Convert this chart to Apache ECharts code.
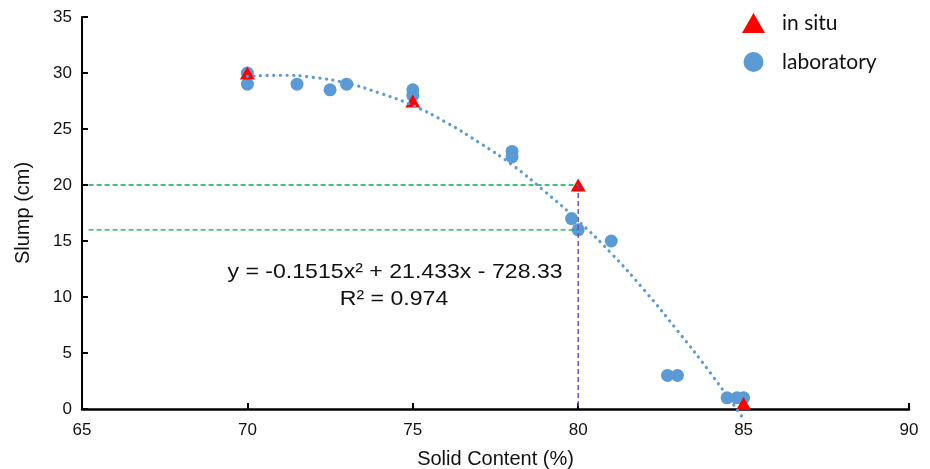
<!DOCTYPE html>
<html>
<head>
<meta charset="utf-8">
<script src="https://cdn.jsdelivr.net/npm/echarts@6/dist/echarts.min.js"></script>
<style>
  html, body { margin: 0; padding: 0; background: #fff; }
  #main { width: 930px; height: 469px; }
</style>
</head>
<body>
<div id="main"></div>
<script>
  // laboratory points [solid content %, slump cm]
  var labData = [
    [70, 30], [70, 29], [71.5, 29], [72.5, 28.5], [73, 29],
    [75, 28.5], [75, 28], [78, 23], [78, 22.5], [79.8, 17],
    [80, 16], [81, 15], [82.7, 3], [83, 3],
    [84.5, 1], [84.8, 1], [85, 1]
  ];
  // in situ points
  var situData = [[70, 30], [75, 27.5], [80, 20], [85, 0.5]];
  // polynomial trendline
  var trendX = [70, 71, 72, 73, 74, 75, 76, 77, 78, 79, 80, 81, 82, 83, 84, 85];
  var trendY = [29.7, 29.8, 29.6, 29.1, 28.2, 27.1, 25.6, 23.8, 21.8, 19.4, 16.8, 13.9, 10.6, 7.0, 3.2, -0.9];
  // guide lines
  var guide20 = [[65.2, 20], [80, 20]];
  var guide16 = [[65.2, 16], [80, 16]];
  var guideV = [[80, 20], [80, 0]];
  var xTicks = [65, 70, 75, 80, 85, 90];
  var yTicks = [0, 5, 10, 15, 20, 25, 30, 35];

  var trendData = trendX.map(function (x, i) { return [x, trendY[i]]; });

  var chart = echarts.init(document.getElementById('main'));
  var font = '"Liberation Sans", Arial, sans-serif';
  var option = {
    animation: false,
    grid: { left: 82, right: 21, top: 17, bottom: 60, outerBoundsMode: 'none', containLabel: false },
    legend: {
      orient: 'vertical',
      left: 737,
      top: 4,
      itemGap: 11,
      itemWidth: 23,
      itemHeight: 20,
      textStyle: { fontFamily: 'Lato, sans-serif', fontSize: 21, lineHeight: 20, color: '#111', padding: [8, 0, 0, 12] },
      data: [
        { name: 'in situ', icon: 'triangle' },
        { name: 'laboratory', icon: 'circle' }
      ]
    },
    xAxis: {
      type: 'value',
      min: xTicks[0], max: xTicks[xTicks.length - 1], interval: 5,
      name: 'Solid Content (%)',
      nameLocation: 'middle',
      nameGap: 40,
      nameTextStyle: { fontFamily: font, fontSize: 20, color: '#111' },
      axisLine: { onZero: false, lineStyle: { color: '#000', width: 2.5 } },
      axisTick: { inside: true, length: 6, lineStyle: { color: '#000', width: 2 } },
      axisLabel: { margin: 13, fontFamily: font, fontSize: 17, color: '#111' },
      splitLine: { show: false }
    },
    yAxis: {
      type: 'value',
      min: yTicks[0], max: yTicks[yTicks.length - 1], interval: 5,
      name: 'Slump (cm)',
      nameLocation: 'middle',
      nameGap: 49,
      nameTextStyle: { fontFamily: font, fontSize: 20, color: '#111' },
      axisLine: { show: true, onZero: false, lineStyle: { color: '#000', width: 2 } },
      axisTick: { show: true, inside: true, length: 6, lineStyle: { color: '#000', width: 2 } },
      axisLabel: { margin: 10, fontFamily: font, fontSize: 17, color: '#111' },
      splitLine: { show: false }
    },
    graphic: [
      {
        type: 'text', x: 395, y: 272, z: 100, scaleX: 1.1,
        style: { text: 'y = -0.1515x² + 21.433x - 728.33', font: '21px ' + font, fill: '#111', align: 'center', verticalAlign: 'middle' }
      },
      {
        type: 'text', x: 394, y: 299, z: 100, scaleX: 1.1,
        style: { text: 'R² = 0.974', font: '21px ' + font, fill: '#111', align: 'center', verticalAlign: 'middle' }
      }
    ],
    series: [
      {
        name: 'guide20', type: 'line', data: guide20, symbol: 'none',
        lineStyle: { color: '#00B050', width: 1.3, type: [5, 3] }, silent: true
      },
      {
        name: 'guide16', type: 'line', data: guide16, symbol: 'none',
        lineStyle: { color: '#00B050', width: 1.3, type: [5, 3] }, silent: true
      },
      {
        name: 'laboratory', type: 'scatter', data: labData,
        symbol: 'circle', symbolSize: 13,
        itemStyle: { color: '#5B9BD5', opacity: 1 }
      },
      {
        name: 'in situ', type: 'scatter', data: situData,
        symbol: 'triangle', symbolSize: [15, 13],
        itemStyle: { color: '#FF0000', opacity: 1 }
      },
      {
        name: 'guideV', type: 'line', data: guideV, symbol: 'none',
        lineStyle: { color: '#7B3FBF', width: 1.4, type: [5, 3] }, silent: true
      },
      {
        name: 'trend', type: 'line', data: trendData, symbol: 'none',
        smooth: true, clip: false,
        lineStyle: { color: '#5B9BD5', width: 3.2, type: [0.1, 6.5], cap: 'round' }
      }
    ]
  };
  chart.setOption(option);
</script>
</body>
</html>
